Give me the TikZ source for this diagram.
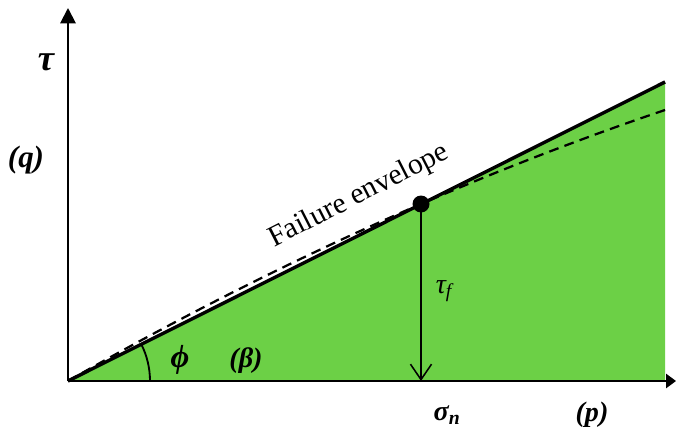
\documentclass[tikz,border=0pt]{standalone}
\usepackage{fontspec}
\setmainfont{Liberation Serif}
\usetikzlibrary{arrows.meta}
\definecolor{envgreen}{RGB}{108,208,70}
\tikzset{
  biglbl/.style={font=\fontsize{22}{24}\selectfont\bfseries\itshape},
  midlbl/.style={font=\fontsize{20}{22}\selectfont\bfseries\itshape},
}
\begin{document}
\begin{tikzpicture}[x=0.025cm,y=0.025cm]
  \useasboundingbox (-68,-48) rectangle (608,381);
  \coordinate (O) at (0,0);
  \coordinate (E) at (597,299);
  \coordinate (Eb) at (597,0);
  \coordinate (P) at (353,177);
  \coordinate (Pb) at (353,0);
  \coordinate (ytip) at (0,373);
  \coordinate (xtip) at (608,0);
  % region below the envelope
  \fill[envgreen] (O) -- (E) -- (Eb) -- cycle;
  \draw[line width=1.4pt,-{Triangle[length=11pt,width=11pt]}] (O) -- (ytip);
  \draw[line width=1.4pt,-{Triangle[length=7pt,width=10pt]}] (O) -- (xtip);
  \draw[line width=2.4pt] (O) -- (E);
  \draw[line width=1.6pt,dash pattern=on 7pt off 4.5pt] (O) .. controls (199,113.5) and (398,203.8) .. (597,271);
  \draw[line width=1.3pt] (82,0) arc[start angle=0,end angle=26.6,radius=82];
  \draw[line width=1.1pt,-{Straight Barb[length=11pt,width=15pt]}] (P) -- (Pb);
  \fill (P) circle (8.5);
  % labels
  \node[biglbl,font=\fontsize{26}{28}\selectfont\bfseries\itshape] (tau) at (-22,319) {τ};
  \node[biglbl] (q) at (-42,221) {(q)};
  \node[rotate=27,font=\fontsize{21}{24}\selectfont] (env) at (291,185) {Failure envelope};
  \node[midlbl,font=\fontsize{23}{24}\selectfont\bfseries\itshape] (phi) at (112,21) {ϕ};
  \node[midlbl] (beta) at (178,20) {(β)};
  \node[font=\fontsize{20}{22}\selectfont\itshape] (tauf) at (376,90) {τ\textsubscript{f}};
  \node[midlbl] (sig) at (379,-34) {σ\textsubscript{n}};
  \node[midlbl] (p) at (524,-34) {(p)};
\end{tikzpicture}
\end{document}
